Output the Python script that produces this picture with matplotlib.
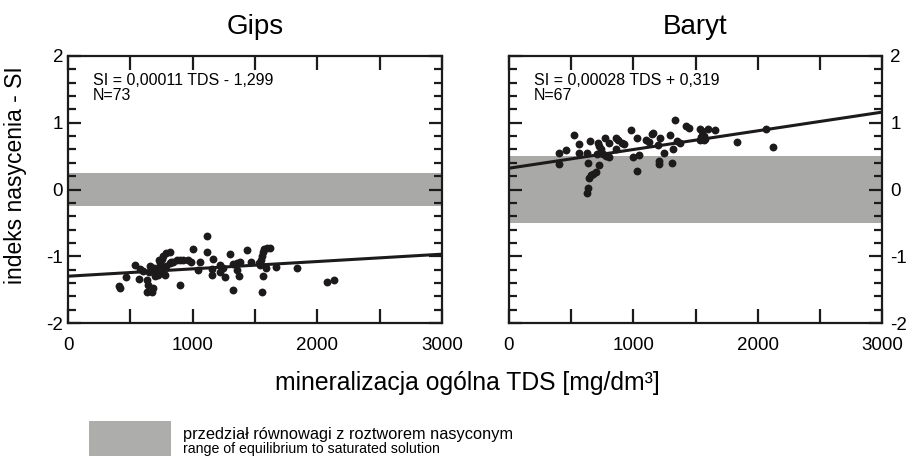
import matplotlib
matplotlib.use("Agg")
import matplotlib.pyplot as plt
from matplotlib.patches import Rectangle
from matplotlib.ticker import MultipleLocator, FixedLocator

plt.rcParams['font.family'] = ['Liberation Sans', 'DejaVu Sans']
plt.rcParams['axes.unicode_minus'] = False

# gips (gypsum) saturation index vs TDS
gips_tds = [410, 415, 469, 536, 571, 576, 600, 635, 643, 635, 670, 678, 656, 651,
            700, 723, 737, 729, 750, 764, 790, 817, 777, 790, 817, 844, 871, 897,
            924, 760, 740, 897, 986, 1005, 1045, 1058, 1112, 1112, 1165, 1152, 1152,
            1219, 1219, 1259, 1299, 1321, 1326, 1353, 1380, 1353, 1374, 1433, 1465,
            1540, 1554, 1562, 1573, 1594, 1621, 1554, 1567, 1589, 1669, 1840, 2076,
            2130, 1240, 960, 705, 1530, 830, 1548, 690]
gips_si = [-1.44, -1.47, -1.31, -1.13, -1.34, -1.19, -1.22, -1.36, -1.43, -1.54, -1.54,
           -1.48, -1.14, -1.23, -1.30, -1.28, -1.15, -1.06, -1.04, -1.00, -0.95, -0.93,
           -1.28, -1.15, -1.10, -1.08, -1.06, -1.06, -1.05, -1.22, -1.10, -1.43, -1.08,
           -0.89, -1.20, -1.09, -0.70, -0.93, -1.04, -1.28, -1.19, -1.13, -1.24, -1.31,
           -0.97, -1.51, -1.11, -1.10, -1.09, -1.20, -1.30, -0.91, -1.09, -1.13, -1.00,
           -0.93, -0.89, -0.88, -0.88, -1.53, -1.29, -1.18, -1.16, -1.17, -1.39, -1.36,
           -1.18, -1.05, -1.22, -1.10, -1.08, -1.05, -1.17]

# baryt (barite)
baryt_tds = [405, 403, 459, 526, 563, 563, 625, 633, 652, 644, 657, 679, 698, 631, 639,
             719, 727, 741, 706, 733, 759, 781, 808, 727, 773, 805, 861, 880, 907, 926,
             861, 979, 995, 1033, 1049, 1033, 1103, 1122, 1148, 1162, 1202, 1215, 1210,
             1210, 1248, 1296, 1315, 1323, 1333, 1350, 1376, 1425, 1451, 1537, 1551,
             1540, 1553, 1566, 1580, 1553, 1572, 1604, 1658, 1832, 2068, 2122, 1548]
baryt_si = [0.54, 0.375, 0.59, 0.815, 0.675, 0.54, 0.55, 0.39, 0.725, 0.175, 0.21, 0.235,
            0.26, -0.05, 0.015, 0.69, 0.65, 0.61, 0.525, 0.55, 0.525, 0.50, 0.49, 0.36,
            0.765, 0.70, 0.775, 0.74, 0.70, 0.675, 0.61, 0.885, 0.49, 0.765, 0.51, 0.275,
            0.74, 0.71, 0.825, 0.85, 0.66, 0.765, 0.425, 0.385, 0.54, 0.81, 0.39, 0.61,
            1.04, 0.725, 0.69, 0.95, 0.925, 0.90, 0.875, 0.74, 0.76, 0.74, 0.75, 0.80,
            0.80, 0.90, 0.89, 0.715, 0.90, 0.635, 0.78]

titles = ['Gips', 'Baryt']
slopes = [0.00011, 0.00028]
intercepts = [-1.299, 0.319]
eq_labels = ['SI = 0,00011 TDS - 1,299\nN=73', 'SI = 0,00028 TDS + 0,319\nN=67']
bands = [0.25, 0.5]   # +/- equilibrium range
band_color = '#a9a9a8'
ink = '#1c1a1a'

fig = plt.figure(figsize=(9.07, 4.59), dpi=100)
ax1 = fig.add_axes([68/907, 1-323/459, 374/907, 267/459])
ax2 = fig.add_axes([509/907, 1-323/459, 373/907, 267/459])

data = [(gips_tds, gips_si), (baryt_tds, baryt_si)]
for i, ax in enumerate([ax1, ax2]):
    tds, si = data[i]
    ax.axhspan(-bands[i], bands[i], color=band_color, lw=0, zorder=0)
    xs = [0, 3000]
    ax.plot(xs, [slopes[i]*x + intercepts[i] for x in xs], color=ink, lw=2.2, zorder=2)
    ax.scatter(tds, si, s=32, color=ink, lw=0, zorder=3)
    ax.text(0.067, 0.935, eq_labels[i], transform=ax.transAxes, fontsize=11.5,
            va='top', ha='left', linespacing=1.0)
    ax.set_xlim(0, 3000)
    ax.set_ylim(-2, 2)
    ax.set_title(titles[i], fontsize=20, pad=16)
    ax.xaxis.set_major_locator(FixedLocator([0, 1000, 2000, 3000]))
    ax.xaxis.set_minor_locator(FixedLocator([500, 1500, 2500]))
    ax.yaxis.set_major_locator(MultipleLocator(1))
    ax.yaxis.set_minor_locator(MultipleLocator(0.2))
    ax.tick_params(axis='x', which='both', direction='in', top=True, bottom=True,
                   length=10, width=1.6, labelsize=13.5, pad=10, color=ink)
    ax.tick_params(axis='y', which='major', direction='in', left=True, right=True,
                   length=9.5, width=1.6, labelsize=13.5, color=ink)
    ax.tick_params(axis='y', which='minor', direction='in', left=True, right=True,
                   length=5.5, width=1.6, color=ink)
    for sp in ax.spines.values():
        sp.set_linewidth(1.6)
        sp.set_color(ink)

ax1.tick_params(axis='y', which='major', pad=3.5)
ax2.tick_params(axis='y', which='major', labelleft=False, labelright=True, pad=6)

fig.text(16/907, 1-175/459, 'indeks nasycenia - SI', rotation=90, fontsize=16.5,
         ha='center', va='center')
fig.text(467/907, 1-390/459, 'mineralizacja ogólna TDS [mg/dm³]', fontsize=17.8,
         ha='center', va='baseline')

# legend swatch for the equilibrium band
fig.patches.append(Rectangle((89/907, 1-456/459), 82/907, 35/459,
                             transform=fig.transFigure, color='#adadab', lw=0))
fig.text(183/907, 1-439/459, 'przedział równowagi z roztworem nasyconym',
         fontsize=11.8, ha='left', va='baseline')
fig.text(183/907, 1-452.5/459, 'range of equilibrium to saturated solution',
         fontsize=10.2, ha='left', va='baseline')

fig.savefig('out.png', dpi=100)
